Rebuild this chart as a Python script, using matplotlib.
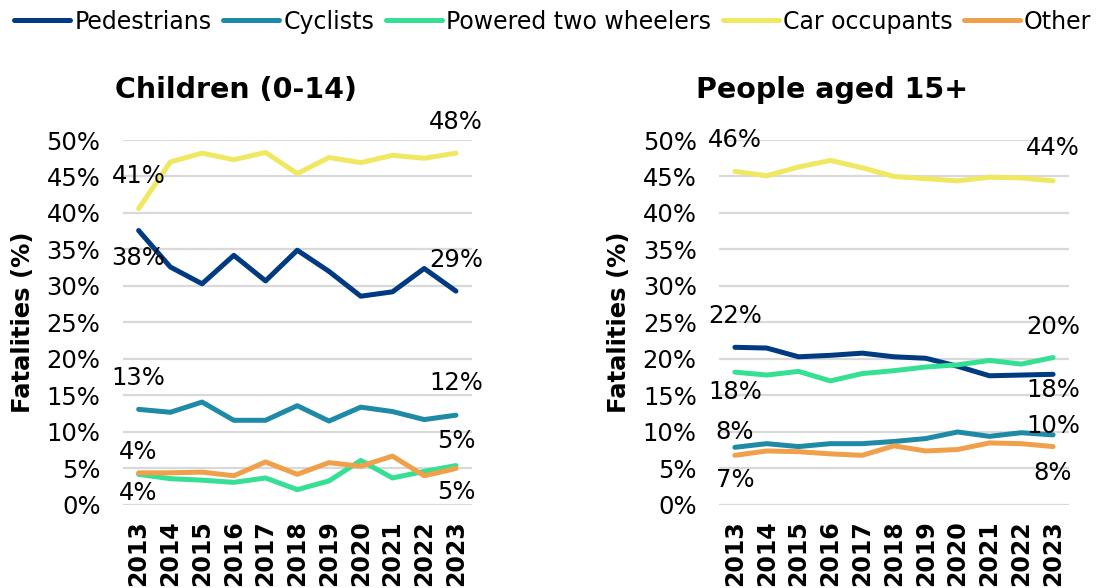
import matplotlib
matplotlib.use('Agg')
import matplotlib.pyplot as plt

years = ['2013', '2014', '2015', '2016', '2017', '2018', '2019', '2020', '2021', '2022', '2023']
modes = ['Pedestrians', 'Cyclists', 'Powered two wheelers', 'Car occupants', 'Other']
colors = ['#003A80', '#1F8AA6', '#35E095', '#F0E860', '#F0A04B']

# children (0-14), share of fatalities in %
kids_ped = [37.6, 32.6, 30.3, 34.2, 30.7, 34.9, 32.0, 28.6, 29.2, 32.4, 29.3]
kids_cyc = [13.1, 12.7, 14.1, 11.6, 11.6, 13.6, 11.5, 13.4, 12.8, 11.7, 12.3]
kids_ptw = [4.2, 3.6, 3.4, 3.1, 3.7, 2.1, 3.3, 6.1, 3.7, 4.6, 5.4]
kids_car = [40.6, 47.0, 48.2, 47.3, 48.3, 45.4, 47.6, 46.9, 47.9, 47.5, 48.2]
kids_oth = [4.4, 4.4, 4.5, 4.0, 5.9, 4.2, 5.8, 5.3, 6.7, 4.0, 5.0]

# people aged 15+
adult_ped = [21.6, 21.5, 20.3, 20.5, 20.8, 20.3, 20.1, 19.0, 17.7, 17.8, 17.9]
adult_cyc = [7.9, 8.4, 8.0, 8.4, 8.4, 8.7, 9.1, 10.0, 9.4, 9.9, 9.6]
adult_ptw = [18.2, 17.8, 18.3, 17.0, 18.0, 18.4, 18.9, 19.2, 19.8, 19.3, 20.2]
adult_car = [45.7, 45.1, 46.3, 47.2, 46.2, 45.0, 44.7, 44.4, 44.9, 44.8, 44.4]
adult_oth = [6.8, 7.4, 7.3, 7.0, 6.8, 8.1, 7.4, 7.6, 8.5, 8.4, 8.0]

# label offsets in pixels for (first, last) point of each series
kids_off = [(-27, 31), (31, 32), (-19, 25), (33, 31), (21, -24)]
adult_off = [(31, -16), (15, 9), (-20, 31), (31, 33), (-25, -26)]

plt.rcParams['font.family'] = ['DejaVu Sans']

fig = plt.figure(figsize=(10.99, 5.88), dpi=100)
ax1 = fig.add_axes([0.1117, 0.1412, 0.3176, 0.6207])
ax2 = fig.add_axes([0.6542, 0.1412, 0.3185, 0.6207])


def draw_panel(ax, series, offsets):
    x = range(len(years))
    lines = []
    for vals, col, name, off in zip(series, colors, modes, offsets):
        ln, = ax.plot(x, vals, color=col, lw=3.6, label=name, solid_capstyle='round')
        lines.append(ln)
        for i, dy in zip([0, len(vals) - 1], off):
            ax.annotate('{:.0f}%'.format(vals[i]), (i, vals[i]),
                        xytext=(0, dy / 1.389), textcoords='offset points',
                        ha='center', va='center', fontsize=17.5)
    ax.set_ylim(0, 50)
    ax.set_xlim(-0.5, len(years) - 0.5)
    ax.set_yticks(range(0, 51, 5))
    ax.set_yticklabels(['{}%'.format(v) for v in range(0, 51, 5)], fontsize=17.5)
    ax.set_xticks(list(x))
    ax.set_xticklabels(years, rotation=90, fontsize=17, fontweight='bold')
    ax.tick_params(length=0, axis='y', pad=16)
    ax.tick_params(length=0, axis='x', pad=11)
    ax.grid(axis='y', color='#D9D9D9', lw=1.6)
    ax.set_axisbelow(True)
    for s in ax.spines.values():
        s.set_visible(False)
    ax.set_ylabel('Fatalities (%)', fontsize=17.5, fontweight='bold')
    ax.yaxis.set_label_coords(-0.25, 0.5)
    return lines


lines = draw_panel(ax1, [kids_ped, kids_cyc, kids_ptw, kids_car, kids_oth], kids_off)
draw_panel(ax2, [adult_ped, adult_cyc, adult_ptw, adult_car, adult_oth], adult_off)

fig.text(0.2147, 0.847, 'Children (0-14)', fontsize=20.5, fontweight='bold', ha='center', va='center')
fig.text(0.757, 0.847, 'People aged 15+', fontsize=20.5, fontweight='bold', ha='center', va='center')

fig.legend(lines, modes, loc='center', bbox_to_anchor=(0.503, 0.963), ncol=5, frameon=False,
           fontsize=17, handlelength=2.37, handletextpad=0.17, columnspacing=0.5)

fig.savefig('out.png', dpi=100)
